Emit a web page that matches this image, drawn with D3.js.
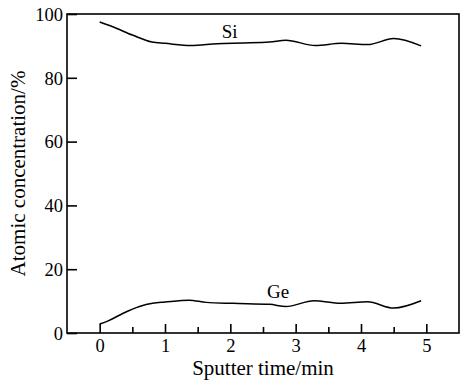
<!DOCTYPE html>
<html lang="en">
<head>
<meta charset="UTF-8">
<title>Atomic concentration vs sputter time</title>
<script src="https://d3js.org/d3.v7.min.js"></script>
<style>
  body { margin: 0; background: #fff; }
  svg { display: block; }
</style>
</head>
<body>
<div id="chart"></div>
<script>
// data
const siTime = [0, 0.2, 0.5, 0.8, 1.0, 1.4, 1.8, 2.2, 2.6, 2.85, 3.3, 3.7, 4.1, 4.5, 4.92];
const siConc = [97.5, 96, 93.4, 91.2, 90.8, 90.1, 90.7, 90.9, 91.2, 91.8, 90.1, 90.8, 90.4, 92.3, 90.0];
const geTime = [0, 0.13, 0.36, 0.61, 0.81, 1.0, 1.37, 1.63, 2.04, 2.6, 2.85, 3.28, 3.69, 4.1, 4.5, 4.92];
const geConc = [2.8, 3.8, 6.2, 8.3, 9.3, 9.7, 10.3, 9.6, 9.3, 9.0, 8.3, 10.1, 9.3, 9.8, 7.8, 10.1];
const xTicks = [0, 1, 2, 3, 4, 5];
const xMinor = [0.5, 1.5, 2.5, 3.5, 4.5];
const yTicks = [0, 20, 40, 60, 80, 100];

const font = "'Liberation Serif', 'Times New Roman', serif";
const width = 460, height = 382;
const margin = {top: 14, right: 1, bottom: 49, left: 67};
const w = width - margin.left - margin.right;
const h = height - margin.top - margin.bottom;

const svg = d3.select("#chart").append("svg")
    .attr("width", width)
    .attr("height", height)
    .style("font-family", font);

const g = svg.append("g")
    .attr("transform", `translate(${margin.left},${margin.top})`);

const x = d3.scaleLinear().domain([-0.5, 5.5]).range([0, w]);
const y = d3.scaleLinear().domain([0, 100]).range([h, 0]);

// frame
g.append("rect")
    .attr("width", w).attr("height", h)
    .attr("fill", "none").attr("stroke", "#000").attr("stroke-width", 1.6);

// bottom axis, ticks pointing inward
const xAxis = g.append("g")
    .attr("transform", `translate(0,${h})`)
    .call(d3.axisBottom(x).tickValues(xTicks).tickSize(-9).tickPadding(6).tickFormat(d3.format("d")));
xAxis.append("g")
    .call(d3.axisBottom(x).tickValues(xMinor).tickSize(-6).tickFormat(""));

const yAxis = g.append("g")
    .call(d3.axisLeft(y).tickValues(yTicks).tickSize(-10).tickPadding(4).tickFormat(d3.format("d")));

g.selectAll(".domain").remove();
g.selectAll("g").attr("font-family", null);
g.selectAll(".tick line").attr("stroke", "#000").attr("stroke-width", 1.6);
g.selectAll(".tick text")
    .style("font-family", font).style("font-size", "18.5px").attr("fill", "#000");
xAxis.selectAll(".tick text").attr("dy", "0.71em");
yAxis.selectAll(".tick text").attr("dy", "0.34em");

// lines
const line = d3.line()
    .x(d => x(d[0]))
    .y(d => y(d[1]))
    .curve(d3.curveMonotoneX);

const si = siTime.map((t, i) => [t, siConc[i]]);
const ge = geTime.map((t, i) => [t, geConc[i]]);

[si, ge].forEach(series => {
  g.append("path")
      .datum(series)
      .attr("fill", "none")
      .attr("stroke", "#000")
      .attr("stroke-width", 1.5)
      .attr("d", line);
});

// curve labels
g.append("text").attr("x", x(1.99)).attr("y", y(92.5))
    .attr("text-anchor", "middle").style("font-family", font).style("font-size", "19px").text("Si");
g.append("text").attr("x", x(2.73)).attr("y", y(10.9))
    .attr("text-anchor", "middle").style("font-family", font).style("font-size", "19px").text("Ge");

// axis titles
g.append("text")
    .attr("x", w / 2).attr("y", h + 42)
    .attr("text-anchor", "middle").style("font-family", font).style("font-size", "21px")
    .text("Sputter time/min");

g.append("text")
    .attr("transform", `translate(${-42},${h / 2}) rotate(-90)`)
    .attr("text-anchor", "middle").style("font-family", font).style("font-size", "21px")
    .text("Atomic concentration/%");
</script>
</body>
</html>
